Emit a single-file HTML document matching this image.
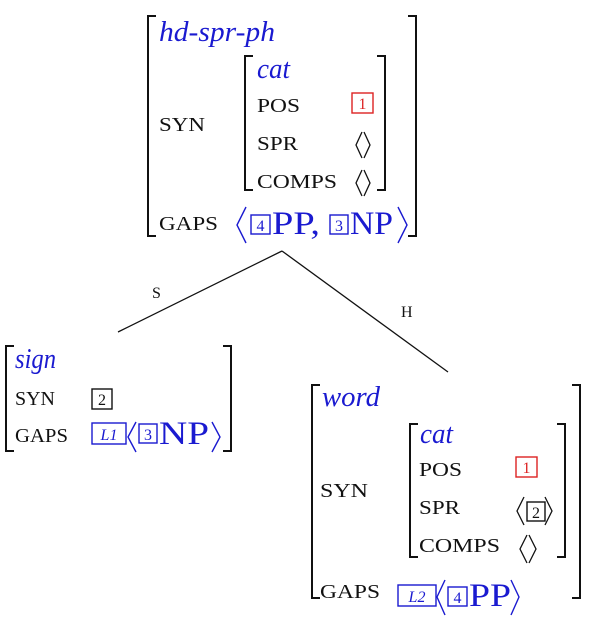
<!DOCTYPE html>
<html><head><meta charset="utf-8"><style>
html,body{margin:0;padding:0;background:#fff;}
svg{display:block;}
text{font-family:"Liberation Serif",serif;}
.k{font-size:20px;fill:#111;}
.t{font-size:28px;fill:#1a1ad0;font-style:italic;}
.b{font-size:33px;fill:#1a1ad0;}
.n{font-size:16px;}
</style></head><body>
<svg width="600" height="617" viewBox="0 0 600 617" xmlns="http://www.w3.org/2000/svg">
<g fill="none" stroke="#111" stroke-width="2">
<path d="M156 16 H148 V236 H156"/><path d="M408 16 H416 V236 H408"/>
<path d="M253 56 H245 V190 H253"/><path d="M377 56 H385 V190 H377"/>
<path d="M14 346 H6 V451 H14"/><path d="M223 346 H231 V451 H223"/>
<path d="M320 385 H312 V598 H320"/><path d="M572 385 H580 V598 H572"/>
<path d="M418 424 H410 V557 H418"/><path d="M557 424 H565 V557 H557"/>
</g>
<g stroke="#111" stroke-width="1.3" fill="none">
<path d="M282 251 L118 332"/><path d="M282 251 L448 372"/>
<path d="M362 132 L356 145 L362 158"/><path d="M364 132 L370 145 L364 158"/>
<path d="M362 170 L356 183 L362 196"/><path d="M364 170 L370 183 L364 196"/>
<path d="M524 497 L517 511 L524 525"/><path d="M545 497 L552 511 L545 525"/>
<path d="M527 535 L520 549 L527 563"/><path d="M529 535 L536 549 L529 563"/>
</g>
<g stroke="#1a1ad0" stroke-width="1.4" fill="none">
<path d="M246 207 L237 225 L246 243"/><path d="M398 207 L407 225 L398 243"/>
<path d="M136 422 L128 437 L136 452"/><path d="M212 422 L220 437 L212 452"/>
<path d="M445 580 L437 597 L445 615"/><path d="M511 580 L519 597 L511 615"/>
<rect x="251" y="215" width="19" height="19"/>
<rect x="330" y="215" width="18" height="19"/>
<rect x="92" y="423" width="34" height="21"/>
<rect x="139" y="424" width="18" height="19"/>
<rect x="398" y="585" width="38" height="21"/>
<rect x="448" y="587" width="19" height="19"/>
</g>
<g stroke="#d22" stroke-width="1.4" fill="none">
<rect x="352" y="93" width="21" height="20"/>
<rect x="516" y="457" width="21" height="20"/>
</g>
<g stroke="#111" stroke-width="1.4" fill="none">
<rect x="92" y="389" width="20" height="20"/>
<rect x="527" y="502" width="18" height="19"/>
</g>
<text x="159" y="41" class="t" textLength="116" lengthAdjust="spacingAndGlyphs">hd-spr-ph</text>
<text x="257" y="78" class="t" textLength="33" lengthAdjust="spacingAndGlyphs">cat</text>
<text x="257" y="112" class="k" textLength="43" lengthAdjust="spacingAndGlyphs">POS</text>
<text x="257" y="150" class="k" textLength="41" lengthAdjust="spacingAndGlyphs">SPR</text>
<text x="257" y="188" class="k" textLength="80" lengthAdjust="spacingAndGlyphs">COMPS</text>
<text x="159" y="131" class="k" textLength="46" lengthAdjust="spacingAndGlyphs">SYN</text>
<text x="159" y="230" class="k" textLength="59" lengthAdjust="spacingAndGlyphs">GAPS</text>
<text x="362.5" y="109" class="n" fill="#d22" text-anchor="middle">1</text>
<text x="260.5" y="231" class="n" fill="#1a1ad0" text-anchor="middle">4</text>
<text x="339" y="231" class="n" fill="#1a1ad0" text-anchor="middle">3</text>
<text x="272" y="234" class="b" textLength="48" lengthAdjust="spacingAndGlyphs">PP,</text>
<text x="350" y="234" class="b" textLength="43" lengthAdjust="spacingAndGlyphs">NP</text>
<text x="152" y="298" class="n" fill="#111">S</text>
<text x="401" y="317" class="n" fill="#111">H</text>
<text x="15" y="368" class="t" textLength="41" lengthAdjust="spacingAndGlyphs">sign</text>
<text x="15" y="405" class="k" textLength="40" lengthAdjust="spacingAndGlyphs">SYN</text>
<text x="15" y="442" class="k" textLength="53" lengthAdjust="spacingAndGlyphs">GAPS</text>
<text x="102" y="405" class="n" fill="#111" text-anchor="middle">2</text>
<text x="109" y="440" class="n" fill="#1a1ad0" text-anchor="middle" font-style="italic">L1</text>
<text x="148" y="440" class="n" fill="#1a1ad0" text-anchor="middle">3</text>
<text x="159" y="444" class="b" textLength="50" lengthAdjust="spacingAndGlyphs">NP</text>
<text x="322" y="406" class="t" textLength="58" lengthAdjust="spacingAndGlyphs">word</text>
<text x="420" y="443" class="t" textLength="33" lengthAdjust="spacingAndGlyphs">cat</text>
<text x="419" y="476" class="k" textLength="43" lengthAdjust="spacingAndGlyphs">POS</text>
<text x="419" y="514" class="k" textLength="41" lengthAdjust="spacingAndGlyphs">SPR</text>
<text x="419" y="552" class="k" textLength="81" lengthAdjust="spacingAndGlyphs">COMPS</text>
<text x="320" y="497" class="k" textLength="48" lengthAdjust="spacingAndGlyphs">SYN</text>
<text x="320" y="598" class="k" textLength="60" lengthAdjust="spacingAndGlyphs">GAPS</text>
<text x="526.5" y="473" class="n" fill="#d22" text-anchor="middle">1</text>
<text x="536" y="518" class="n" fill="#111" text-anchor="middle">2</text>
<text x="417" y="602" class="n" fill="#1a1ad0" text-anchor="middle" font-style="italic">L2</text>
<text x="457.5" y="603" class="n" fill="#1a1ad0" text-anchor="middle">4</text>
<text x="469" y="606" class="b" textLength="42" lengthAdjust="spacingAndGlyphs">PP</text>
</svg>
</body></html>
